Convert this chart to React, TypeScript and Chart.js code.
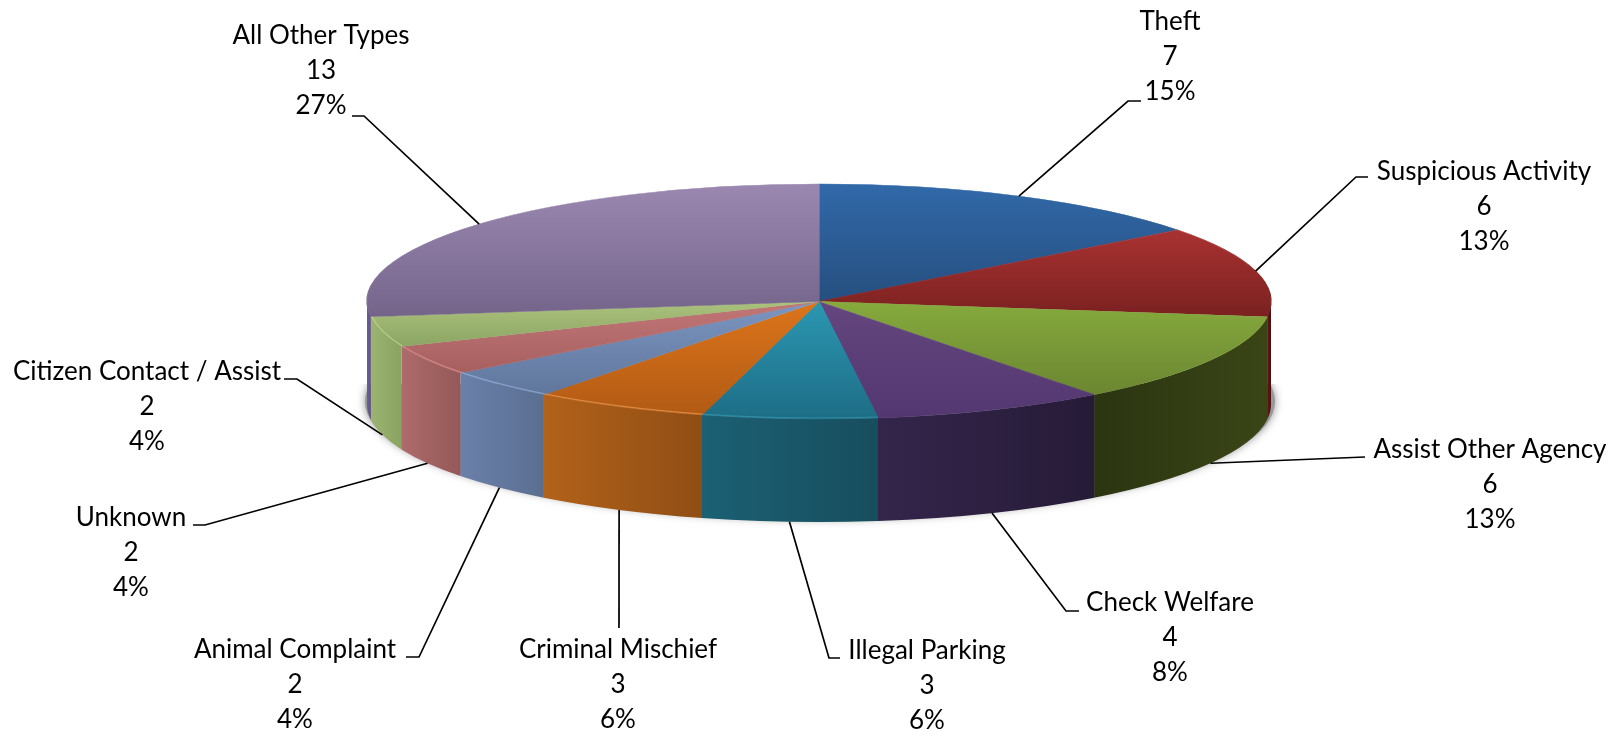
import React, { useEffect, useRef } from "react";
import { Chart, registerables } from "chart.js";

Chart.register(...registerables);

const categories = ["Theft", "Suspicious Activity", "Assist Other Agency", "Check Welfare", "Illegal Parking", "Criminal Mischief", "Animal Complaint", "Unknown", "Citizen Contact / Assist", "All Other Types"];
const counts = [7, 6, 6, 4, 3, 3, 2, 2, 2, 13];
const percents = ["15%", "13%", "13%", "8%", "6%", "6%", "4%", "4%", "4%", "27%"];

// styles
const faceLight = ["#3169a9", "#a93231", "#86aa3d", "#65467f", "#2b97b2", "#dc751b", "#7b96c1", "#c27777", "#aac27c", "#9b88b1"];
const faceDark = ["#264f7f", "#7a2120", "#6b8631", "#533770", "#1e6d86", "#b25a14", "#60769c", "#a65f5f", "#8da564", "#74648a"];
const wallLeft = ["#2a4a70", "#6a1615", "#2b3511", "#34254b", "#1b6073", "#b2621a", "#6a80aa", "#ae6b6b", "#9cb472", "#6b5e92"];
const wallRight = ["#2a4a70", "#4a0e10", "#3a4516", "#261b37", "#174e5e", "#904e14", "#5a6f90", "#955858", "#8ba361", "#5f5384"];
const bevel = ["", "", "", "", "rgba(63,169,196,0.5)", "rgba(238,154,80,0.7)", "rgba(147,176,220,0.7)", "rgba(224,144,144,0.7)", "rgba(196,220,144,0.7)", ""];

// layout: ellipse of the pie's top face, and where each label sits
const CX = 819, CY = 301.5, RX = 452, RY = 117.5, DEPTH = 103;
const FONT = '26px Lato, "Noto Sans", sans-serif';
const LINE = 35.3;
const labelX = [1170, 1484, 1490, 1170, 927, 618, 295, 131, 147, 321];
const labelY = [21.5, 171.5, 449.5, 602.5, 650.5, 649.5, 649.5, 517.5, 371.5, 35.5];
const hookX = [[1141, 1128], [1368, 1356], [1365, 1365], [1079, 1066], [840, 829], [619, 619], [406, 419], [193, 205], [284, 297], [352, 364]];
const hookY = [101, 177, 457, 611, 658, 628, 657, 525, 379, 116];

const total = counts.reduce((a, b) => a + b, 0);

function sliceBounds(i: number) {
  let cum = 0;
  for (let k = 0; k < i; k++) cum += counts[k];
  const a0 = (cum / total) * Math.PI * 2 - Math.PI / 2;
  const a1 = ((cum + counts[i]) / total) * Math.PI * 2 - Math.PI / 2;
  const ys = [0, Math.sin(a0), Math.sin(a1)];
  if (a0 < -Math.PI / 2 + 1e-6) ys.push(-1);
  if (a0 < Math.PI / 2 && a1 > Math.PI / 2) ys.push(1);
  return { top: Math.min(...ys), bottom: Math.max(...ys) };
}

function faceFill(c: any) {
  const i = c.dataIndex;
  const chart = c.chart;
  const area = chart.chartArea;
  if (!area) return faceLight[i];
  const R = Math.min(area.width, area.height) / 2;
  const cy = (area.top + area.bottom) / 2;
  const b = sliceBounds(i);
  const g = chart.ctx.createLinearGradient(0, cy + b.top * R, 0, cy + b.bottom * R);
  g.addColorStop(0, faceLight[i]);
  g.addColorStop(1, faceDark[i]);
  return g;
}

const pie3d = {
  id: "pie3d",
  beforeDatasetsDraw(chart: any) {
    const ctx = chart.ctx;
    const arcs = chart.getDatasetMeta(0).data;
    // soft ground shadow
    ctx.save();
    ctx.beginPath();
    ctx.rect(0, 384, chart.width, chart.height - 384);
    ctx.clip();
    ctx.shadowColor = "rgba(70,70,70,0.6)";
    ctx.shadowBlur = 9;
    ctx.fillStyle = "#999";
    ctx.beginPath();
    ctx.ellipse(CX + 1, CY + DEPTH - 3, RX + 3, RY, 0, 0, Math.PI * 2);
    ctx.fill();
    ctx.restore();
    // side wall
    arcs.forEach((arc: any, i: number) => {
      const lo = Math.max(arc.startAngle, 0);
      const hi = Math.min(arc.endAngle, Math.PI);
      if (hi <= lo) return;
      const xa = CX + RX * Math.cos(lo);
      const xb = CX + RX * Math.cos(hi);
      const g = ctx.createLinearGradient(Math.min(xa, xb), 0, Math.max(xa, xb), 0);
      g.addColorStop(0, wallLeft[i]);
      g.addColorStop(1, wallRight[i]);
      ctx.fillStyle = g;
      ctx.beginPath();
      ctx.ellipse(CX, CY, RX, RY, 0, lo, hi);
      ctx.ellipse(CX, CY + DEPTH, RX, RY, 0, hi, lo, true);
      ctx.closePath();
      ctx.fill();
    });
    // map the library's circle on to the tilted ellipse
    const a = arcs[0];
    ctx.save();
    ctx.translate(CX, CY);
    ctx.scale(RX / a.outerRadius, RY / a.outerRadius);
    ctx.translate(-a.x, -a.y);
  },
  afterDatasetsDraw(chart: any) {
    const ctx = chart.ctx;
    ctx.restore();
    const arcs = chart.getDatasetMeta(0).data;
    // bevel highlight on the front rim
    arcs.forEach((arc: any, i: number) => {
      if (!bevel[i]) return;
      ctx.strokeStyle = bevel[i];
      ctx.lineWidth = 1.2;
      ctx.beginPath();
      ctx.ellipse(CX, CY, RX - 1, RY - 1, 0, arc.startAngle, arc.endAngle);
      ctx.stroke();
    });
    // labels and leader lines
    ctx.save();
    ctx.strokeStyle = "#000";
    ctx.lineWidth = 1.7;
    arcs.forEach((arc: any, i: number) => {
      const mid = (arc.startAngle + arc.endAngle) / 2;
      const ax = CX + RX * Math.cos(mid);
      const ay = CY + RY * Math.sin(mid) + (Math.sin(mid) > 0 ? DEPTH : 0);
      ctx.beginPath();
      ctx.moveTo(ax, ay);
      ctx.lineTo(hookX[i][1], hookY[i]);
      ctx.lineTo(hookX[i][0], hookY[i]);
      ctx.stroke();
    });
    ctx.fillStyle = "#000";
    ctx.font = FONT;
    ctx.textAlign = "center";
    ctx.textBaseline = "middle";
    categories.forEach((name, i) => {
      ctx.fillText(name, labelX[i], labelY[i]);
      ctx.fillText(String(counts[i]), labelX[i], labelY[i] + LINE);
      ctx.fillText(percents[i], labelX[i], labelY[i] + LINE * 2);
    });
    ctx.restore();
  },
};

export default function App() {
  const ref = useRef<HTMLCanvasElement>(null);
  useEffect(() => {
    const chart = new Chart(ref.current as HTMLCanvasElement, {
      type: "pie",
      data: {
        labels: categories,
        datasets: [{ data: counts, backgroundColor: faceFill, borderColor: faceFill, borderWidth: 1, clip: false } as any],
      },
      options: {
        animation: false,
        responsive: false,
        devicePixelRatio: 1,
        plugins: { legend: { display: false }, tooltip: { enabled: false } },
      },
      plugins: [pie3d],
    });
    return () => chart.destroy();
  }, []);
  return (
    <div style={{ position: "absolute", left: 0, top: 0, width: 1623, height: 738, background: "#fff" }}>
      <canvas ref={ref} width={1623} height={738} style={{ display: "block" }} />
    </div>
  );
}
